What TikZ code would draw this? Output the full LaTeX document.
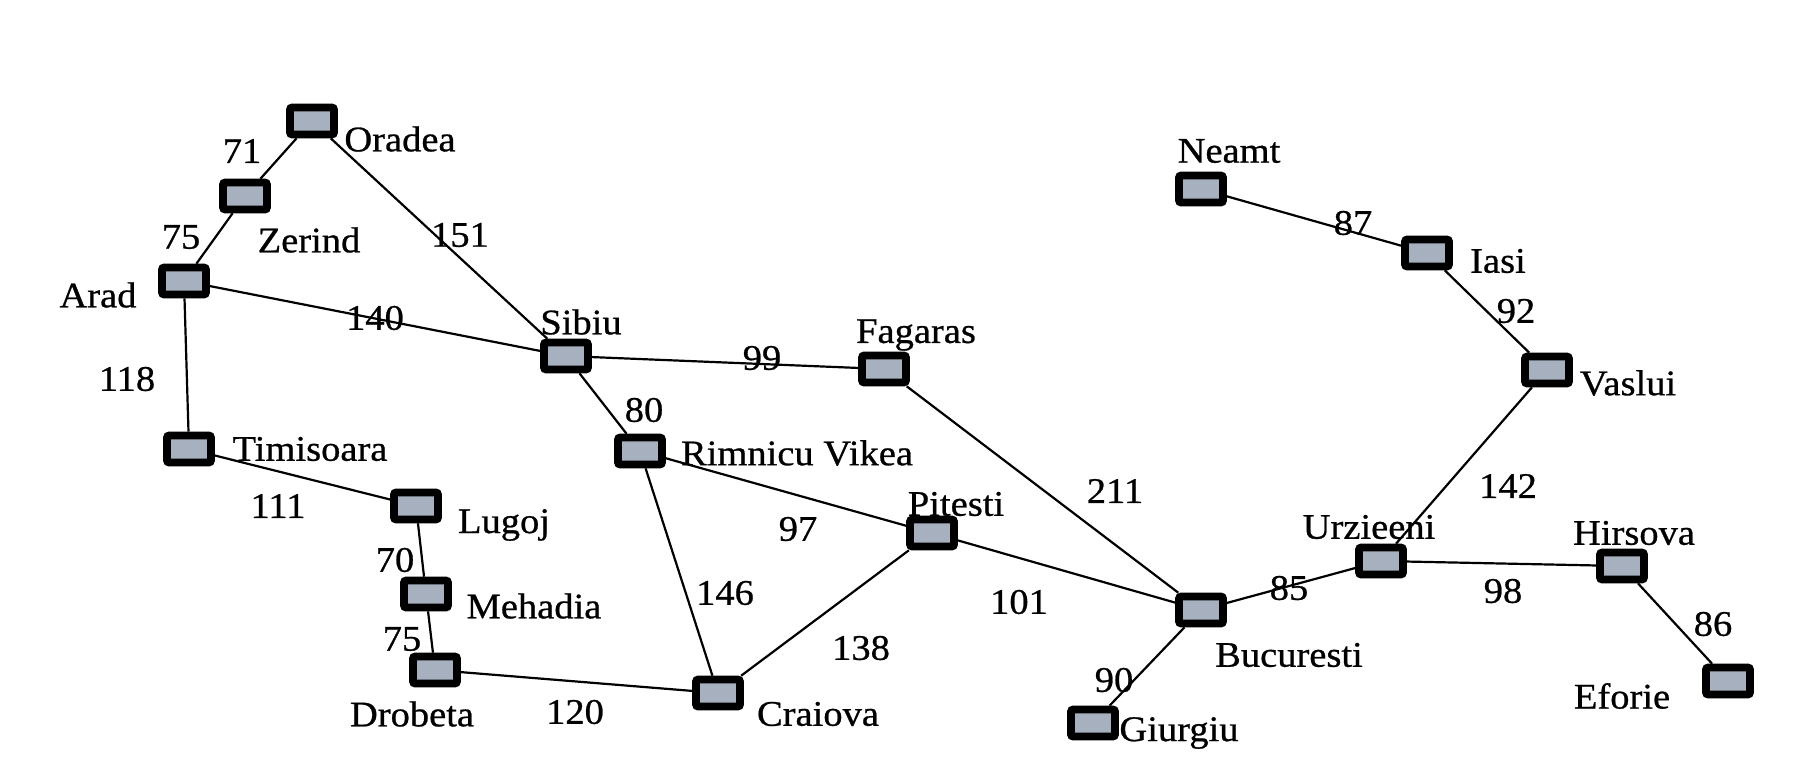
\documentclass[tikz,border=0pt]{standalone}
\usepackage{fontspec}
\setmainfont{Liberation Serif}[FakeStretch=1.07,
  BoldFont={Liberation Serif},BoldFeatures={FakeBold=0.7,FakeStretch=1.07}]
\definecolor{cityfill}{RGB}{166,176,191}

\begin{document}
\begin{tikzpicture}[x=0.5pt,y=-0.5pt,
  city/.style={draw=black,line width=3.8pt,fill=cityfill,rounded corners=1pt,
    minimum width=22pt,minimum height=13.5pt,inner sep=0pt},
  cityname/.style={font=\fontsize{18}{22}\selectfont\bfseries,inner sep=0pt},
  dist/.style={font=\fontsize{18}{22}\selectfont\bfseries,inner sep=0pt},
  road/.style={line width=1.1pt}]
\useasboundingbox (0,0) rectangle (1804,778);

% cities
\draw (312,121) node[city] (Oradea) {};
\draw (245,196) node[city] (Zerind) {};
\draw (184,281) node[city] (Arad) {};
\draw (189,449) node[city] (Timisoara) {};
\draw (416,506) node[city] (Lugoj) {};
\draw (426,594) node[city] (Mehadia) {};
\draw (435,670) node[city] (Drobeta) {};
\draw (566,356) node[city] (Sibiu) {};
\draw (640,451) node[city] (Rimnicu) {};
\draw (884,369) node[city] (Fagaras) {};
\draw (932,533) node[city] (Pitesti) {};
\draw (718,693) node[city] (Craiova) {};
\draw (1201,610) node[city] (Bucuresti) {};
\draw (1093,723) node[city] (Giurgiu) {};
\draw (1381,561) node[city] (Urzieeni) {};
\draw (1622,566) node[city] (Hirsova) {};
\draw (1728,681) node[city] (Eforie) {};
\draw (1547,370) node[city] (Vaslui) {};
\draw (1427,253) node[city] (Iasi) {};
\draw (1201,189) node[city] (Neamt) {};

% city names
\draw (400,139) node[cityname] (tOradea) {Oradea};
\draw (309,240) node[cityname] (tZerind) {Zerind};
\draw (98,295) node[cityname] (tArad) {Arad};
\draw (310,449) node[cityname] (tTimisoara) {Timisoara};
\draw (504,525) node[cityname] (tLugoj) {Lugoj};
\draw (534,606) node[cityname] (tMehadia) {Mehadia};
\draw (412,714) node[cityname] (tDrobeta) {Drobeta};
\draw (581,322) node[cityname] (tSibiu) {Sibiu};
\draw (797,453) node[cityname] (tRimnicu) {Rimnicu Vikea};
\draw (916,335) node[cityname] (tFagaras) {Fagaras};
\draw (956,504) node[cityname] (tPitesti) {Pitesti};
\draw (818,714) node[cityname] (tCraiova) {Craiova};
\draw (1289,655) node[cityname] (tBucuresti) {Bucuresti};
\draw (1179,733) node[cityname] (tGiurgiu) {Giurgiu};
\draw (1369,527) node[cityname] (tUrzieeni) {Urzieeni};
\draw (1634,533) node[cityname] (tHirsova) {Hirsova};
\draw (1622,696) node[cityname] (tEforie) {Eforie};
\draw (1628,383) node[cityname] (tVaslui) {Vaslui};
\draw (1498,261) node[cityname] (tIasi) {Iasi};
\draw (1229,151) node[cityname] (tNeamt) {Neamt};

% roads
\draw[road] (Oradea) -- (Zerind) -- (Arad) -- (Timisoara) -- (Lugoj) -- (Mehadia) -- (Drobeta) -- (Craiova);
\draw[road] (Oradea) -- (Sibiu) -- (Fagaras) -- (Bucuresti) -- (Giurgiu);
\draw[road] (Arad) -- (Sibiu) -- (Rimnicu) -- (Pitesti) -- (Bucuresti) -- (Urzieeni) -- (Hirsova) -- (Eforie);
\draw[road] (Rimnicu) -- (Craiova) -- (Pitesti);
\draw[road] (Urzieeni) -- (Vaslui) -- (Iasi) -- (Neamt);

% distances
\draw (242,151) node[dist] (dOZ) {71};
\draw (181,237) node[dist] (dZA) {75};
\draw (460,235) node[dist] (dOS) {151};
\draw (375,318) node[dist] (dAS) {140};
\draw (127,379) node[dist] (dAT) {118};
\draw (278,506) node[dist] (dTL) {111};
\draw (395,560) node[dist] (dLM) {70};
\draw (402,639) node[dist] (dMD) {75};
\draw (575,712) node[dist] (dDC) {120};
\draw (762,358) node[dist] (dSF) {99};
\draw (644,410) node[dist] (dSR) {80};
\draw (798,529) node[dist] (dRP) {97};
\draw (725,593) node[dist] (dRC) {146};
\draw (861,648) node[dist] (dCP) {138};
\draw (1115,491) node[dist] (dFB) {211};
\draw (1019,602) node[dist] (dPB) {101};
\draw (1114,680) node[dist] (dBG) {90};
\draw (1289,588) node[dist] (dBU) {85};
\draw (1503,591) node[dist] (dUH) {98};
\draw (1508,486) node[dist] (dUV) {142};
\draw (1713,624) node[dist] (dHE) {86};
\draw (1353,223) node[dist] (dNI) {87};
\draw (1516,311) node[dist] (dIV) {92};
\end{tikzpicture}
\end{document}
